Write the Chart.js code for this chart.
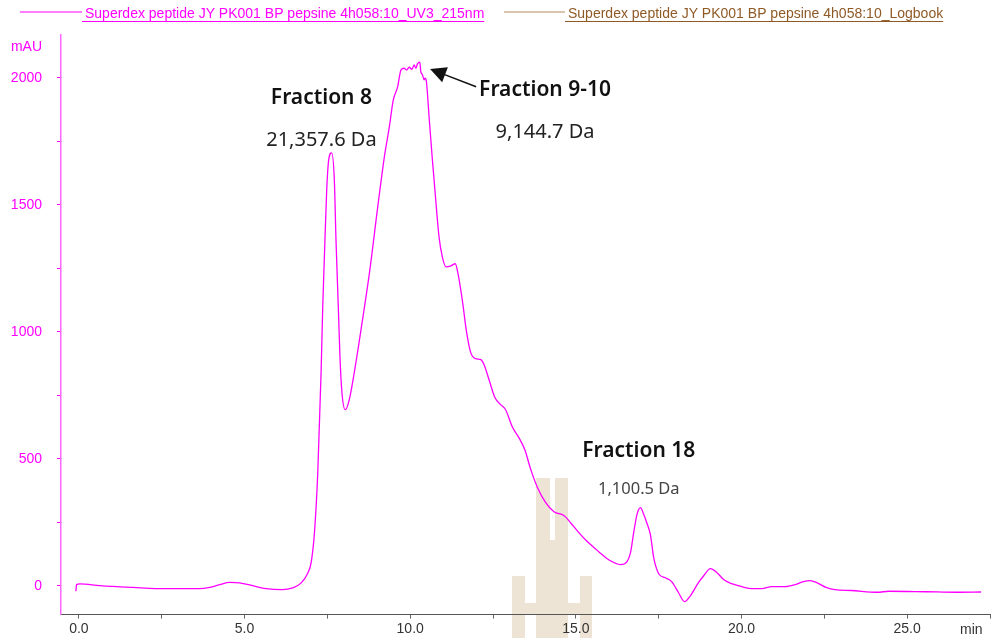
<!DOCTYPE html>
<html>
<head>
<meta charset="utf-8">
<script src="https://cdn.jsdelivr.net/npm/chart.js@4.4.1/dist/chart.umd.min.js"></script>
<style>
  html, body { margin: 0; padding: 0; background: #fff; }
  #wrap { width: 992px; height: 638px; position: relative; }
</style>
</head>
<body>
<div id="wrap"><canvas id="chart" width="992" height="638"></canvas></div>
<script>
// retention time (min) and UV 215 nm absorbance (mAU)
const times = [
  -0.09, -0.07, 0.03, 0.63, 1.63, 2.64, 3.64, 3.95, 4.25, 4.55, 4.85, 5.24, 5.65, 6.14, 6.45,
  6.71, 6.91, 7.01, 7.11, 7.21, 7.31, 7.36, 7.41, 7.48, 7.54, 7.63, 7.71, 7.76, 7.83, 7.88,
  7.94, 8.04, 8.16, 8.36, 8.56, 8.77, 9.02, 9.22, 9.37, 9.49, 9.62, 9.72, 9.82, 9.89, 9.97,
  10.05, 10.12, 10.17, 10.22, 10.29, 10.32, 10.37, 10.42, 10.45, 10.49, 10.57, 10.67, 10.77,
  10.87, 10.97, 11.08, 11.23, 11.36, 11.45, 11.58, 11.70, 11.83, 11.98, 12.13, 12.23, 12.38,
  12.56, 12.73, 12.88, 13.08, 13.28, 13.46, 13.64, 13.83, 14.09, 14.34, 14.64, 14.84, 15.09,
  15.29, 15.69, 15.99, 16.35, 16.54, 16.65, 16.75, 16.85, 16.95, 17.05, 17.14, 17.25, 17.35,
  17.50, 17.70, 17.89, 18.10, 18.28, 18.46, 18.70, 18.86, 19.06, 19.26, 19.46, 19.70, 20.01,
  20.31, 20.61, 20.91, 21.32, 21.62, 21.87, 22.07, 22.27, 22.57, 22.82, 23.31, 24.10, 24.45,
  25.57, 26.49, 27.23
];
const mau = [
  -22, 4, 7, 0, -7, -12, -12, -7, 4, 13, 11, 0, -12, -16, -9,
  11, 50, 91, 209, 445, 839, 1098, 1295, 1559, 1677, 1705, 1598, 1362, 1098, 902,
  760, 693, 732, 878, 1047, 1232, 1492, 1689, 1807, 1913, 1965, 2031, 2038, 2031, 2042,
  2034, 2051, 2038, 2055, 2062, 2025, 2012, 1992, 1999, 1985, 1846, 1677, 1520,
  1374, 1295, 1256, 1260, 1268, 1224, 1118, 1000, 917, 894, 890, 870, 811,
  740, 713, 693, 626, 583, 535, 457, 390, 327, 291, 276, 248, 209,
  181, 134, 102, 83, 94, 130, 213, 283, 307, 280, 248, 201, 110,
  47, 31, 16, -28, -63, -39, 12, 39, 67, 51, 24, 8, -4,
  -12, -12, -4, -4, 4, 16, 20, 12, -8, -16, -19, -26, -22,
  -24, -26, -25
];

// axis ticks: every tick gets a mark, only the listed ones get a label
const xTicks = [0, 2.5, 5, 7.5, 10, 12.5, 15, 17.5, 20, 22.5, 25, 27.5];
const xLabelled = [0, 5, 10, 15, 20, 25];
const yTicks = [0, 250, 500, 750, 1000, 1250, 1500, 1750, 2000];
const yLabelled = [0, 500, 1000, 1500, 2000];

const seriesNames = [
  'Superdex peptide JY PK001 BP pepsine 4h058:10_UV3_215nm',
  'Superdex peptide JY PK001 BP pepsine 4h058:10_Logbook'
];

const MAGENTA = '#ff00ff';
const AXIS_FONT = '"Liberation Sans", Arial, sans-serif';

// header legend, watermark and peak labels
const decor = {
  id: 'decor',
  beforeDraw(chart) {
    const { ctx } = chart;
    ctx.save();
    ctx.fillStyle = '#ede4d5';
    // rough "HH" watermark behind everything
    const rects = [
      [536, 478, 14, 160], [555, 478, 13, 160], [536, 540, 32, 98],
      [512, 576, 13, 62], [580, 576, 12, 62], [525, 603, 11, 11], [568, 603, 12, 11]
    ];
    rects.forEach(r => ctx.fillRect(r[0], r[1], r[2], r[3]));
    ctx.restore();
  },
  afterDraw(chart) {
    const { ctx, scales: { x, y }, chartArea } = chart;
    ctx.save();
    // legend
    ctx.font = '14px ' + AXIS_FONT;
    ctx.textBaseline = 'alphabetic';
    const items = [
      { x0: 20, x1: 82, line: MAGENTA, color: MAGENTA, text: seriesNames[0] },
      { x0: 504, x1: 565, line: '#b8895c', color: '#8f5a26', text: seriesNames[1] }
    ];
    items.forEach(it => {
      ctx.lineWidth = 1.2;
      ctx.strokeStyle = it.line;
      ctx.beginPath(); ctx.moveTo(it.x0, 12); ctx.lineTo(it.x1, 12); ctx.stroke();
      ctx.fillStyle = it.color;
      ctx.textAlign = 'left';
      const tx = it.x1 + 3;
      ctx.fillText(it.text, tx, 18);
      const w = ctx.measureText(it.text).width;
      ctx.lineWidth = 1;
      ctx.strokeStyle = it.color;
      ctx.beginPath(); ctx.moveTo(it.x1, 21.5); ctx.lineTo(tx + w, 21.5); ctx.stroke();
    });

    // axis units
    ctx.fillStyle = MAGENTA;
    ctx.textAlign = 'right';
    ctx.fillText('mAU', chartArea.left - 19, 51);
    ctx.fillStyle = '#333';
    ctx.textAlign = 'left';
    ctx.fillText('min', 960, 634);

    // peak annotations, placed in data units
    const bold = '600 21px "Noto Sans", sans-serif';
    const notes = [
      { t: 7.32, v: 1921, text: 'Fraction 8', font: bold, color: '#111' },
      { t: 7.32, v: 1756, text: '21,357.6 Da', font: '20px "Noto Sans", sans-serif', color: '#222' },
      { t: 14.07, v: 1953, text: 'Fraction 9-10', font: bold, color: '#111' },
      { t: 14.07, v: 1787, text: '9,144.7 Da', font: '20px "Noto Sans", sans-serif', color: '#222' },
      { t: 16.9, v: 531, text: 'Fraction 18', font: bold, color: '#111' },
      { t: 16.9, v: 378, text: '1,100.5 Da', font: '16.5px "Noto Sans", sans-serif', color: '#444' }
    ];
    ctx.textAlign = 'center';
    ctx.textBaseline = 'middle';
    notes.forEach(n => {
      ctx.font = n.font;
      ctx.fillStyle = n.color;
      ctx.fillText(n.text, x.getPixelForValue(n.t), y.getPixelForValue(n.v));
    });

    // arrow pointing to the 9-10 apex
    const ax0 = x.getPixelForValue(11.99), ay0 = y.getPixelForValue(1965);
    const ax1 = x.getPixelForValue(10.6), ay1 = y.getPixelForValue(2035);
    const ang = Math.atan2(ay1 - ay0, ax1 - ax0);
    ctx.strokeStyle = '#111';
    ctx.fillStyle = '#111';
    ctx.lineWidth = 1.5;
    ctx.beginPath();
    ctx.moveTo(ax0, ay0);
    ctx.lineTo(ax1 - 10 * Math.cos(ang), ay1 - 10 * Math.sin(ang));
    ctx.stroke();
    ctx.beginPath();
    ctx.moveTo(ax1, ay1);
    ctx.lineTo(ax1 - 16 * Math.cos(ang) + 8 * Math.sin(ang), ay1 - 16 * Math.sin(ang) - 8 * Math.cos(ang));
    ctx.lineTo(ax1 - 16 * Math.cos(ang) - 8 * Math.sin(ang), ay1 - 16 * Math.sin(ang) + 8 * Math.cos(ang));
    ctx.closePath();
    ctx.fill();
    ctx.restore();
  }
};

new Chart(document.getElementById('chart'), {
  type: 'line',
  data: {
    datasets: [{
      label: seriesNames[0],
      data: times.map((t, i) => ({ x: t, y: mau[i] })),
      borderColor: MAGENTA,
      borderWidth: 1.3,
      pointRadius: 0,
      cubicInterpolationMode: 'monotone',
      fill: false
    }]
  },
  options: {
    responsive: false,
    devicePixelRatio: 1,
    animation: false,
    layout: { padding: { top: 35, right: 0, left: 0, bottom: 0 } },
    plugins: { legend: { display: false }, tooltip: { enabled: false } },
    scales: {
      x: {
        type: 'linear',
        min: -0.54,
        max: 27.5,
        afterBuildTicks: s => { s.ticks = xTicks.map(v => ({ value: v })); },
        grid: { drawOnChartArea: false, tickLength: 4, color: '#666' },
        border: { color: '#555', width: 1 },
        ticks: {
          autoSkip: false,
          maxRotation: 0,
          padding: 2,
          color: '#333',
          font: { family: AXIS_FONT, size: 14 },
          callback: v => (xLabelled.includes(v) ? v.toFixed(1) : '')
        },
        afterFit: s => { s.height = 23; }
      },
      y: {
        min: -114,
        max: 2169,
        afterBuildTicks: s => { s.ticks = yTicks.map(v => ({ value: v })); },
        grid: { drawOnChartArea: false, tickLength: 4, color: MAGENTA },
        border: { color: '#ff66ff', width: 1.5 },
        ticks: {
          autoSkip: false,
          padding: 15,
          color: MAGENTA,
          font: { family: AXIS_FONT, size: 14 },
          callback: v => (yLabelled.includes(v) ? String(v) : '')
        },
        afterFit: s => { s.width = 61; }
      }
    }
  },
  plugins: [decor]
});
</script>
</body>
</html>
